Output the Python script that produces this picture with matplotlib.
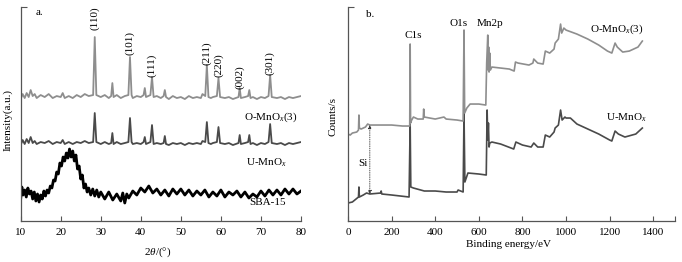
import numpy as np
import matplotlib
matplotlib.use("Agg")
import matplotlib.pyplot as plt

plt.rcParams['font.family'] = ['Liberation Serif', 'DejaVu Serif']
plt.rcParams['mathtext.fontset'] = 'custom'
plt.rcParams['mathtext.rm'] = 'Liberation Serif'
plt.rcParams['mathtext.it'] = 'Liberation Serif:italic'

# ---- XRD (panel a) ----
o_x = [10, 10.5, 11, 11.5, 12, 12.5, 13, 13.5, 14, 15, 16, 17, 18, 19, 20, 20.5, 21, 22, 23, 24, 25, 26, 27,
       28.1, 28.5, 28.9, 30, 31, 32, 32.6, 32.9, 33.2, 34, 35, 36, 36.9, 37.3, 37.7, 38, 39, 40,
       40.7, 41.0, 41.3, 42.4, 42.8, 43.2, 44, 45, 45.7, 46.0, 46.3, 47, 48, 49, 50, 51, 52, 53, 54,
       55, 55.4, 56.1, 56.5, 56.9, 57.5, 58, 59.0, 59.4, 59.8, 61, 62, 63, 64.4, 64.7, 65.0, 66,
       66.8, 67.1, 67.4, 68, 69, 70, 71, 71.9, 72.3, 72.7, 74, 75, 76, 77, 78, 79, 80]
o_y = [122, 127, 123, 128, 124, 131, 125, 127, 123, 126, 124, 127, 123, 125, 124, 128, 123, 125, 123, 126, 124, 127, 125,
       126, 184, 126, 124, 126, 123, 125, 138, 124, 126, 123, 125, 126, 164, 126, 123, 125, 124,
       126, 133, 124, 126, 144, 124, 125, 123, 125, 131, 124, 122, 125, 123, 124, 122, 125, 123, 124,
       123, 127, 125, 156, 124, 123, 124, 125, 143, 124, 123, 124, 122, 124, 133, 123, 124,
       125, 131, 123, 124, 122, 124, 123, 125, 146, 124, 123, 124, 122, 124, 123, 124, 125]

u_x = o_x
u_y = [76, 81, 77, 82, 78, 84, 78, 80, 77, 79, 78, 80, 77, 79, 78, 81, 77, 79, 77, 79, 78, 80, 78,
       79, 108, 79, 77, 79, 77, 78, 88, 77, 79, 77, 78, 79, 103, 79, 77, 78, 77,
       79, 84, 77, 79, 96, 77, 78, 77, 78, 85, 77, 76, 78, 77, 78, 76, 78, 77, 78,
       77, 80, 79, 99, 78, 77, 78, 79, 94, 78, 77, 78, 76, 78, 86, 77, 78,
       79, 86, 77, 78, 76, 78, 77, 79, 97, 78, 77, 78, 76, 78, 77, 78, 79]

s_x = [10, 10.3, 10.6, 11, 11.4, 11.8, 12.2, 12.6, 13, 13.4, 13.8, 14.2, 14.6, 15, 15.4, 15.8, 16.2, 16.6,
       17, 17.4, 17.8, 18.2, 18.6, 19, 19.4, 19.8, 20.2, 20.6, 21, 21.4, 21.8, 22.2, 22.6, 23, 23.4,
       23.8, 24.2, 24.6, 25, 25.4, 25.8, 26.2, 26.6, 27, 27.5, 28, 28.5, 29, 29.5, 30, 31, 32, 33, 34,
       35, 35.5, 36, 36.5, 37, 38, 39, 40, 41, 42, 43, 44, 45, 46, 47, 48, 49, 50, 51, 52, 53, 54,
       55, 56, 57, 58, 59, 60, 61, 62, 63, 64, 65, 66, 67, 68, 69, 70, 71, 72, 73, 74, 75, 76, 77, 78, 79, 80]
s_y = [22, 34, 26, 31, 24, 33, 27, 30, 22, 29, 20, 27, 19, 26, 22, 30, 25, 31, 28, 35, 33, 41, 40, 49,
       47, 58, 55, 64, 60, 68, 63, 72, 64, 70, 60, 66, 52, 55, 42, 46, 33, 37, 29, 33, 26, 32, 25,
       31, 24, 29, 22, 29, 21, 27, 20, 28, 18, 27, 23, 30, 26, 33, 29, 35, 28, 32, 26, 31, 25, 32,
       27, 32, 26, 31, 25, 30, 26, 31, 24, 29, 25, 31, 24, 29, 26, 30, 24, 29, 23, 27, 24, 30,
       25, 31, 26, 31, 26, 32, 27, 32, 27, 30]

xrd_peaks = ['(110)', '(101)', '(111)', '(211)', '(220)', '(002)', '(301)']
xrd_peak_pos = [28.5, 37.3, 42.8, 56.4, 59.4, 64.7, 72.3]
xrd_label_y = [203, 178, 156, 168, 156, 144, 158]

# ---- XPS (panel b) ----
ox_be = [0, 10, 20, 40, 48, 50, 52, 60, 80, 90, 100, 150, 200, 250, 283, 285, 287, 292, 300, 320, 345, 347, 350,
         400, 440, 450, 500, 528, 532, 535, 545, 560, 600, 632, 636, 641, 643, 645, 647, 650, 653, 660, 700,
         740, 762, 768, 780, 830, 848, 852, 870, 895, 905, 925, 945, 950, 965, 975, 980, 990, 1000, 1050,
         1100, 1150, 1190, 1210, 1225, 1235, 1260, 1290, 1330, 1350]
ox_c = [87, 86, 88, 89, 91, 106, 93, 92, 94, 97, 96, 96, 96, 95, 95, 177, 98, 101, 104, 102, 102, 112, 104,
        102, 104, 102, 101, 100, 191, 108, 113, 117, 117, 116, 158, 186, 151, 174, 149, 168, 151, 154, 153,
        152, 150, 159, 158, 156, 158, 162, 158, 157, 170, 168, 172, 178, 182, 197, 188, 193, 191, 187,
        182, 176, 170, 168, 178, 174, 169, 170, 174, 180]

ux_be = [0, 20, 48, 50, 52, 70, 85, 100, 150, 152, 155, 200, 280, 285, 288, 300, 350, 400, 450, 500, 505, 528,
         532, 536, 550, 600, 634, 638, 641, 644, 647, 650, 660, 700, 760, 770, 800, 840, 852, 870, 895, 905,
         925, 945, 950, 965, 975, 982, 995, 1000, 1020, 1050, 1100, 1150, 1200, 1210, 1225, 1240, 1270,
         1320, 1350]
ux_c = [18, 19, 24, 34, 24, 26, 28, 27, 28, 30, 27, 26, 24, 98, 34, 33, 30, 30, 29, 29, 31, 29,
        108, 39, 48, 47, 46, 111, 81, 98, 74, 78, 79, 77, 72, 79, 76, 74, 78, 74, 74, 86,
        84, 89, 93, 96, 111, 101, 104, 103, 103, 97, 92, 87, 81, 80, 90, 87, 84,
        87, 93]

fig = plt.figure(figsize=(6.82, 2.62), dpi=100)
axa = fig.add_axes([0.0303, 0.1565, 0.411, 0.8165])
axb = fig.add_axes([0.5103, 0.1565, 0.4795, 0.8165])

light = '#8e8e8e'
dark = '#4a4a4a'
spine_c = '#555555'
fs = 8

# panel a
axa.plot(s_x, s_y, color='black', lw=2.0)
axa.plot(u_x, u_y, color=dark, lw=1.3)
axa.plot(o_x, o_y, color=light, lw=1.3)
for lab, px, py in zip(xrd_peaks, xrd_peak_pos, xrd_label_y):
    axa.text(px, py, lab, rotation=90, ha='center', va='center', fontsize=fs)
axa.text(79.0, 104, r'O-MnO$_x$(3)', ha='right', va='center', fontsize=fs)
axa.text(76.5, 58, r'U-MnO$_x$', ha='right', va='center', fontsize=fs)
axa.text(76.3, 19, 'SBA-15', ha='right', va='center', fontsize=fs)
axa.text(13.8, 209, 'a.', ha='left', va='center', fontsize=fs)
axa.set_xlim(10, 80)
axa.set_ylim(0, 214)
axa.set_xticks(np.arange(10, 81, 10))
axa.set_yticks([214])
axa.set_yticklabels([])
axa.set_xlabel(r'2$\it{\theta}$/(°)', fontsize=fs, va='center')
axa.xaxis.set_label_coords(0.49, -0.145)
axa.set_ylabel('Intensity(a.u.)', fontsize=fs, va='center')
axa.yaxis.set_label_coords(-0.045, 0.47)

# panel b
axb.plot(ux_be, ux_c, color=dark, lw=1.2)
axb.plot(ox_be, ox_c, color=light, lw=1.2)
axb.annotate('', xy=(100, 96), xytext=(100, 27),
             arrowprops=dict(arrowstyle='<|-|>', color='#333333', lw=0.6, ls=':',
                             mutation_scale=5, shrinkA=0, shrinkB=0))
axb.text(67, 58, 'Si', ha='center', va='center', fontsize=fs)
axb.text(299, 186, 'C1s', ha='center', va='center', fontsize=fs)
axb.text(505, 198, 'O1s', ha='center', va='center', fontsize=fs)
axb.text(652, 198, 'Mn2p', ha='center', va='center', fontsize=fs)
axb.text(1355, 192, r'O-MnO$_x$(3)', ha='right', va='center', fontsize=fs)
axb.text(1369, 103, r'U-MnO$_x$', ha='right', va='center', fontsize=fs)
axb.text(83, 207, 'b.', ha='left', va='center', fontsize=fs)
axb.set_xlim(0, 1500)
axb.set_ylim(0, 214)
axb.set_xticks(list(range(0, 1401, 200)) + [1500])
axb.set_xticklabels([str(v) for v in range(0, 1401, 200)] + [''])
axb.set_yticks([214])
axb.set_yticklabels([])
axb.set_xlabel('Binding energy/eV', fontsize=fs, va='center')
axb.xaxis.set_label_coords(0.49, -0.11)
axb.set_ylabel('Counts/s', fontsize=fs, va='center')
axb.yaxis.set_label_coords(-0.046, 0.49)

for ax in (axa, axb):
    for s in ('top', 'right'):
        ax.spines[s].set_visible(False)
    for s in ('left', 'bottom'):
        ax.spines[s].set_color(spine_c)
        ax.spines[s].set_linewidth(0.9)
    ax.tick_params(axis='x', direction='in', length=3.5, width=0.8, color=spine_c,
                   labelsize=fs, pad=5)
    ax.tick_params(axis='y', direction='in', length=4, width=0.8, color=spine_c)

fig.savefig('out.png', dpi=100)
